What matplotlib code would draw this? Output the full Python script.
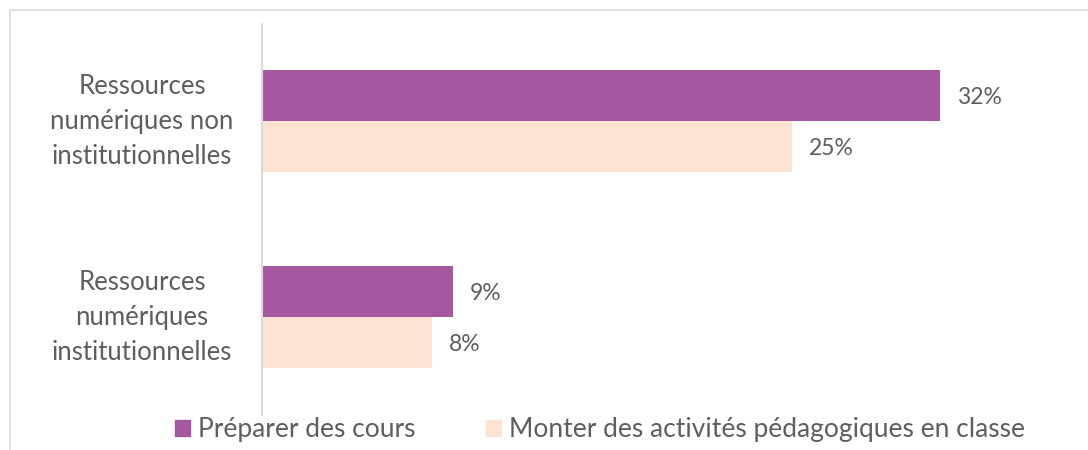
import matplotlib
matplotlib.use("Agg")
import matplotlib.pyplot as plt
from matplotlib.patches import Patch
from matplotlib.lines import Line2D

categories = ["Ressources\nnumériques non\ninstitutionnelles",
              "Ressources\nnumériques\ninstitutionnelles"]
series_names = ["Préparer des cours",
                "Monter des activités pédagogiques en classe"]
preparer = [32, 9]
monter = [25, 8]

PURPLE = "#A5579F"
PEACH = "#FDE3D1"
TEXT = "#5E5E5E"

plt.rcParams["font.family"] = ["Lato", "DejaVu Sans"]

fig = plt.figure(figsize=(10.88, 4.5), dpi=100)
W, H = 1088, 450
ax = fig.add_axes([262 / W, 1 - 415 / H, (1060 - 262) / W, (415 - 24) / H])

ypos = [1, 0]
bh = 0.26
for i, y in enumerate(ypos):
    ax.barh(y + bh / 2, preparer[i], height=bh, color=PURPLE)
    ax.barh(y - bh / 2, monter[i], height=bh, color=PEACH)
    ax.text(preparer[i] + 0.8, y + bh / 2 - 0.01, f"{preparer[i]}%", va="center",
            ha="left", fontsize=16.5, color=TEXT)
    ax.text(monter[i] + 0.8, y - bh / 2 - 0.01, f"{monter[i]}%", va="center",
            ha="left", fontsize=16.5, color=TEXT)
    ax.text(-120 / 798, y, categories[i], transform=ax.get_yaxis_transform(),
            ha="center", va="center", multialignment="center", fontsize=18.5,
            color=TEXT, linespacing=1.5)

ax.set_xlim(0, 798 / 21.19)
ax.set_ylim(-0.5, 1.495)
ax.set_xticks([])
ax.set_yticks([])
for s in ["top", "right", "bottom"]:
    ax.spines[s].set_visible(False)
ax.spines["left"].set_color("#D9D9D9")
ax.spines["left"].set_linewidth(1.5)

# outer chart frame (cut at right and bottom)
fig.add_artist(Line2D([10 / W, 1], [1 - 10 / H, 1 - 10 / H], color="#D9D9D9", lw=1.2))
fig.add_artist(Line2D([10 / W, 10 / W], [0, 1 - 10 / H], color="#D9D9D9", lw=1.2))

handles = [Patch(color=PURPLE), Patch(color=PEACH)]
fig.legend(handles, series_names, loc="center", bbox_to_anchor=(600 / W, 1 - 430 / H),
           ncol=2, frameon=False, handlelength=0.55, handleheight=0.55,
           handletextpad=0.3, columnspacing=2.7, labelcolor=TEXT,
           prop={"size": 19})

fig.savefig("out.png", dpi=100)
